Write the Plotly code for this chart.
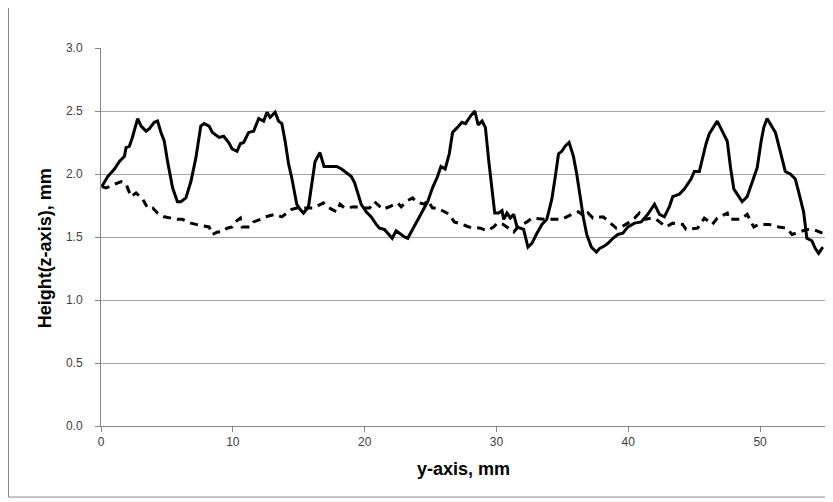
import plotly.graph_objects as go

# Solid profile (y-axis position in mm, height in mm)
solid_x = [0.06, 0.51, 1.02, 1.40, 1.78, 1.90, 2.15, 2.38, 2.78, 3.04, 3.42, 3.67, 4.04, 4.29, 4.55, 4.80,
           5.05, 5.43, 5.80, 6.06, 6.44, 6.82, 7.20, 7.57, 7.82, 8.20, 8.45, 8.96, 9.31, 9.69, 9.94, 10.32,
           10.57, 10.82, 11.20, 11.58, 11.96, 12.34, 12.59, 12.83, 13.21, 13.47, 13.72, 13.97, 14.23, 14.47,
           14.85, 15.10, 15.36, 15.74, 15.99, 16.24, 16.61, 16.92, 17.37, 17.88, 18.25, 18.48, 18.99, 19.24,
           19.49, 19.74, 20.12, 20.50, 20.88, 21.13, 21.50, 21.88, 22.09, 22.39, 22.77, 23.02, 23.27, 23.64,
           24.02, 24.40, 24.78, 25.15, 25.53, 25.79, 26.11, 26.42, 26.67, 27.04, 27.38, 27.65, 28.03, 28.36,
           28.61, 28.91, 29.16, 29.42, 29.67, 29.87, 30.17, 30.42, 30.55, 30.80, 31.05, 31.31, 31.56, 31.81,
           32.06, 32.39, 32.69, 33.07, 33.45, 33.82, 34.20, 34.45, 34.71, 34.96, 35.21, 35.51, 35.84, 36.09,
           36.34, 36.60, 36.85, 36.95, 37.20, 37.58, 37.83, 38.21, 38.46, 38.84, 39.21, 39.59, 39.97, 40.48,
           40.98, 41.48, 41.99, 42.37, 42.74, 43.12, 43.37, 43.88, 44.25, 44.76, 45.01, 45.39, 45.64, 45.90,
           46.15, 46.38, 46.75, 47.13, 47.51, 47.76, 48.01, 48.39, 48.64, 49.02, 49.40, 49.78, 50.08, 50.28,
           50.53, 50.91, 51.16, 51.53, 51.91, 52.29, 52.67, 52.92, 53.30, 53.55, 53.93, 54.18, 54.44, 54.69,
           54.76]
solid_z = [1.90, 1.98, 2.04, 2.10, 2.14, 2.21, 2.22, 2.29, 2.44, 2.38, 2.34, 2.36, 2.41, 2.42, 2.33, 2.26,
           2.10, 1.89, 1.78, 1.78, 1.81, 1.94, 2.13, 2.38, 2.40, 2.38, 2.33, 2.29, 2.30, 2.25, 2.20, 2.18,
           2.24, 2.25, 2.33, 2.34, 2.44, 2.42, 2.49, 2.45, 2.49, 2.42, 2.40, 2.26, 2.08, 1.97,
           1.76, 1.72, 1.69, 1.74, 1.92, 2.10, 2.17, 2.06, 2.06, 2.06, 2.04, 2.02, 1.98, 1.93,
           1.84, 1.76, 1.70, 1.66, 1.60, 1.57, 1.56, 1.52, 1.49, 1.55, 1.52, 1.50, 1.49, 1.56,
           1.64, 1.70, 1.78, 1.89, 1.98, 2.06, 2.04, 2.16, 2.33, 2.37, 2.41, 2.40, 2.46, 2.50,
           2.39, 2.42, 2.37, 2.10, 1.86, 1.69, 1.69, 1.71, 1.64, 1.69, 1.65, 1.68, 1.58, 1.57,
           1.56, 1.42, 1.45, 1.53, 1.60, 1.64, 1.80, 1.97, 2.16, 2.18, 2.22, 2.25, 2.14, 2.00,
           1.81, 1.65, 1.52, 1.49, 1.42, 1.38, 1.41, 1.43, 1.45, 1.49, 1.52, 1.53, 1.58, 1.61,
           1.62, 1.68, 1.76, 1.68, 1.66, 1.74, 1.82, 1.84, 1.88, 1.96, 2.02, 2.02, 2.13, 2.24,
           2.32, 2.36, 2.42, 2.34, 2.26, 2.05, 1.88, 1.82, 1.78, 1.82, 1.93, 2.05, 2.26, 2.37,
           2.44, 2.37, 2.33, 2.18, 2.02, 2.00, 1.96, 1.86, 1.70, 1.49, 1.47, 1.41, 1.37, 1.41,
           1.42]

# Dashed profile
dashed_x = [0.06, 0.39, 1.53, 1.90, 2.28, 2.66, 3.16, 3.54, 3.92, 4.29, 4.80, 5.31, 5.80, 6.18, 6.82, 7.20,
            8.20, 8.45, 8.83, 9.18, 9.56, 9.94, 10.19, 10.57, 10.70, 11.32, 11.58, 12.08, 12.46, 13.21, 13.72,
            14.47, 14.85, 15.61, 16.11, 16.87, 17.12, 17.88, 18.13, 18.48, 19.24, 19.74, 20.37, 20.75, 21.38,
            21.88, 22.51, 22.77, 23.27, 23.64, 23.90, 24.53, 24.78, 25.15, 25.53, 26.42, 26.80, 27.42, 27.91,
            28.78, 29.29, 29.80, 30.05, 30.50, 31.31, 31.64, 32.31, 32.69, 33.82, 34.58, 34.96, 35.71, 36.22,
            36.72, 36.95, 37.32, 38.08, 38.33, 39.09, 39.49, 39.97, 40.48, 40.85, 41.23, 41.74, 42.12, 42.87,
            43.37, 44.13, 44.38, 45.26, 45.77, 46.38, 46.75, 47.51, 47.63, 48.51, 49.02, 49.52, 49.90, 50.66,
            51.41, 52.04, 52.42, 53.55, 54.06, 54.56, 54.76]
dashed_z = [1.90, 1.89, 1.94, 1.92, 1.82, 1.85, 1.80, 1.73, 1.73, 1.69, 1.66, 1.65, 1.64, 1.64, 1.61, 1.60,
            1.58, 1.52, 1.54, 1.54, 1.57, 1.58, 1.62, 1.65, 1.58, 1.58, 1.62, 1.64, 1.66, 1.68, 1.66,
            1.72, 1.73, 1.73, 1.73, 1.77, 1.74, 1.70, 1.76, 1.73, 1.74, 1.73, 1.73, 1.78, 1.72,
            1.74, 1.77, 1.74, 1.79, 1.81, 1.78, 1.76, 1.79, 1.73, 1.73, 1.68, 1.62, 1.60, 1.58,
            1.57, 1.55, 1.58, 1.61, 1.60, 1.54, 1.58, 1.62, 1.65, 1.64, 1.64, 1.64, 1.68, 1.70,
            1.66, 1.69, 1.65, 1.66, 1.64, 1.57, 1.58, 1.61, 1.65, 1.69, 1.64, 1.65, 1.64, 1.58,
            1.61, 1.60, 1.56, 1.57, 1.65, 1.60, 1.65, 1.69, 1.64, 1.64, 1.68, 1.58, 1.60, 1.60,
            1.58, 1.57, 1.52, 1.56, 1.56, 1.54, 1.53]

x_ticks = [0, 10, 20, 30, 40, 50]
y_ticks = [0.0, 0.5, 1.0, 1.5, 2.0, 2.5, 3.0]
y_tick_text = ["0.0", "0.5", "1.0", "1.5", "2.0", "2.5", "3.0"]

fig = go.Figure()
fig.add_trace(go.Scatter(x=solid_x, y=solid_z, mode="lines",
                         line=dict(color="black", width=3), showlegend=False))
fig.add_trace(go.Scatter(x=dashed_x, y=dashed_z, mode="lines",
                         line=dict(color="black", width=3, dash="8px,6px"), showlegend=False))

tick_font = dict(family="Liberation Sans, Arial, sans-serif", size=12, color="#404040")
title_font = dict(family="Liberation Sans, Arial, sans-serif", size=18, color="black")

border = dict(color="#898989", width=1)

# The page body adds an 8px offset, so the figure is sized to fill the rest of the window.
fig.update_layout(
    width=825, height=494,
    margin=dict(l=93, r=7, t=40, b=76),
    paper_bgcolor="white", plot_bgcolor="white",
    xaxis=dict(range=[0, 55], tickvals=x_ticks, showgrid=False, zeroline=False,
               showline=True, linecolor="#868686", linewidth=1,
               ticks="outside", ticklen=5, tickcolor="#868686", tickfont=tick_font),
    yaxis=dict(range=[0, 3], tickvals=y_ticks, ticktext=y_tick_text, showgrid=True,
               gridcolor="#a6a6a6", gridwidth=1, zeroline=False,
               showline=True, linecolor="#868686", linewidth=1,
               ticks="outside", ticklen=5, tickcolor="#868686", tickfont=tick_font,
               ticklabelstandoff=10),
    annotations=[
        dict(text="<b>y-axis, mm</b>", xref="paper", yref="paper", x=0.5, y=-0.1126,
             xanchor="center", yanchor="middle", showarrow=False, font=title_font),
        dict(text="<b>Height(z-axis), mm</b>", xref="paper", yref="paper", x=-0.0772, y=0.47,
             xanchor="center", yanchor="middle", textangle=-90, showarrow=False, font=title_font),
    ],
    shapes=[
        dict(type="line", xref="paper", yref="paper", x0=-0.1276, x1=-0.1276, y0=-0.188, y1=1.12,
             line=border, layer="below"),
        dict(type="line", xref="paper", yref="paper", x0=1.0055, x1=1.0055, y0=-0.188, y1=1.12,
             line=border, layer="below"),
        dict(type="line", xref="paper", yref="paper", x0=-0.1276, x1=1.0055, y0=-0.188, y1=-0.188,
             line=border, layer="below"),
    ],
)

fig.write_html("out.html")
